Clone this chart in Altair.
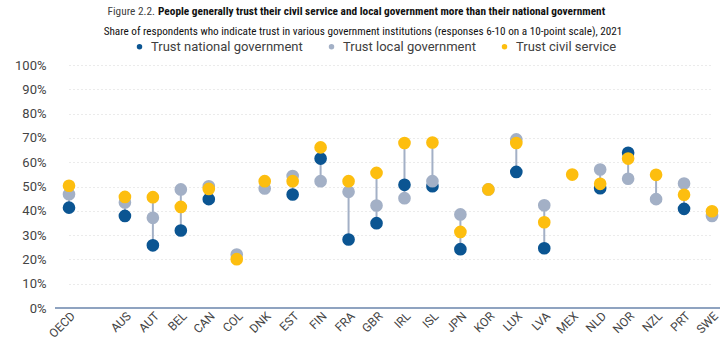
import altair as alt
import pandas as pd

countries = ["OECD", " ", "AUS", "AUT", "BEL", "CAN", "COL", "DNK", "EST", "FIN", "FRA",
             "GBR", "IRL", "ISL", "JPN", "KOR", "LUX", "LVA", "MEX", "NLD", "NOR",
             "NZL", "PRT", "SWE"]
national = [41.3, None, 37.9, 25.8, 31.9, 44.8, None, None, 46.7, 61.5, 28.2,
            34.9, 50.7, 50.1, 24.2, None, 56.0, 24.6, None, 49.3, 63.9,
            None, 40.8, None]
local = [46.8, None, 43.4, 37.1, 48.8, 50.1, 22.0, 49.2, 54.3, 52.2, 47.8,
         42.2, 45.2, 52.2, 38.5, 48.8, 69.4, 42.3, None, 57.0, 53.2,
         44.8, 51.2, 37.9]
civil = [50.3, None, 45.7, 45.6, 41.6, 49.0, 20.1, 52.2, 52.2, 66.1, 52.2,
         55.6, 67.9, 68.1, 31.3, 48.8, 67.9, 35.3, 54.9, 51.1, 61.5,
         54.8, 46.6, 39.8]
series_names = ["Trust national government", "Trust local government", "Trust civil service"]
series_colors = ["#0b5592", "#a3b0c6", "#fdbe0f"]
y_ticks = [0, 10, 20, 30, 40, 50, 60, 70, 80, 90, 100]

title_prefix = "Figure 2.2."
title_main = "People generally trust their civil service and local government more than their national government"
subtitle = "Share of respondents who indicate trust in various government institutions (responses 6-10 on a 10-point scale), 2021"

rows = []
for name, vals in zip(series_names, [national, local, civil]):
    for c, v in zip(countries, vals):
        if v is not None:
            rows.append({"country": c, "series": name, "value": v})
df = pd.DataFrame(rows)

W, H = 665, 243
narrow = "Roboto Condensed, Liberation Sans Narrow, DejaVu Sans Condensed, Roboto, sans-serif"

xscale = alt.Scale(type="point", domain=countries, range=[14, 657], padding=0)
yscale = alt.Scale(domain=[0, 100], nice=False)

xaxis = alt.Axis(title=None, labelAngle=-45, labelFontSize=12, labelColor="#444444",
                 labelFont="Roboto", ticks=False, domain=False, grid=False, labelPadding=2)
yaxis = alt.Axis(title=None, values=y_ticks, labelExpr="datum.value + '%'",
                 labelFontSize=13, labelColor="#444444", labelFont="Roboto",
                 ticks=False, domain=False, grid=True, gridColor="#d6d6d6",
                 gridDash=[1, 3], gridWidth=1, labelPadding=9)

rules = alt.Chart(df).transform_aggregate(
    lo="min(value)", hi="max(value)", groupby=["country"]
).mark_rule(color="#a3b0c6", strokeWidth=2).encode(
    x=alt.X("country:N", scale=xscale, axis=xaxis),
    y=alt.Y("lo:Q", scale=yscale, axis=yaxis),
    y2="hi:Q",
)

baseline = alt.Chart(pd.DataFrame({"v": [0]})).mark_rule(
    color="#8fa3c0", strokeWidth=2
).encode(x=alt.value(0), x2=alt.value(W), y=alt.value(H))

points = alt.Chart(df).mark_circle(size=160, opacity=1).encode(
    x=alt.X("country:N", scale=xscale, axis=xaxis),
    y=alt.Y("value:Q", scale=yscale, axis=yaxis),
    color=alt.Color("series:N", scale=alt.Scale(domain=series_names, range=series_colors),
                    legend=alt.Legend(orient="none", legendX=78, legendY=-25,
                                      direction="horizontal", title=None,
                                      symbolType="circle", symbolSize=30,
                                      labelFontSize=13, labelFont="Roboto",
                                      labelColor="#404040", columnPadding=22,
                                      labelOffset=5, labelLimit=300)),
)

t1 = alt.Chart(pd.DataFrame({"t": [title_prefix]})).mark_text(
    align="right", baseline="alphabetic", font=narrow, fontSize=11.3, color="#404040"
).encode(text="t:N", x=alt.value(100), y=alt.value(-50))
t2 = alt.Chart(pd.DataFrame({"t": [title_main]})).mark_text(
    align="left", baseline="alphabetic", font=narrow, fontSize=11.3, fontWeight="bold",
    color="#111111"
).encode(text="t:N", x=alt.value(103), y=alt.value(-50))
t3 = alt.Chart(pd.DataFrame({"t": [subtitle]})).mark_text(
    align="center", baseline="alphabetic", font=narrow, fontSize=11.2, color="#111111"
).encode(text="t:N", x=alt.value(308), y=alt.value(-30))

chart = alt.layer(baseline, rules, points, t1, t2, t3).properties(
    width=W, height=H,
    autosize=alt.AutoSizeParams(type="none"),
    padding={"left": 55, "top": 65, "right": 0, "bottom": 33},
).configure_view(stroke=None)

chart.save("out.html", embed_options={"renderer": "svg", "actions": False})
